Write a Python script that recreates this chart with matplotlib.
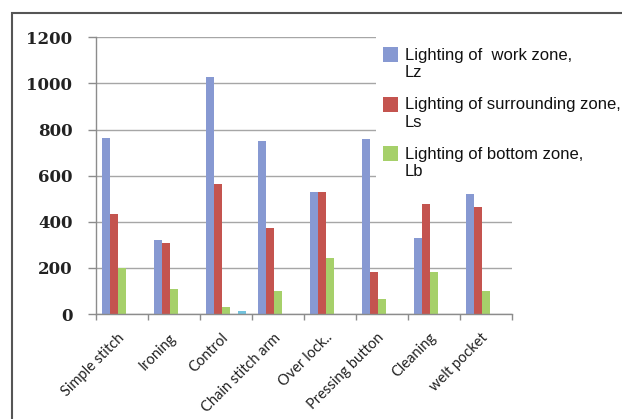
import numpy as np
import matplotlib
matplotlib.use("Agg")
import matplotlib.pyplot as plt
import matplotlib.transforms as mtransforms
from matplotlib.patches import Rectangle

# Operations and measured lighting levels
operations = ["Simple stitch", "Ironing", "Control", "Chain stitch arm",
              "Over lock..", "Pressing button", "Cleaning", "welt pocket"]
lz = [762, 319, 1026, 749, 531, 758, 329, 522]
ls = [434, 310, 564, 371, 531, 180, 478, 463]
lb = [200, 107, 29, 98, 241, 66, 180, 98]
extra4 = [0, 0, 0, 0, 0, 0, 0, 0]
extra5 = [0, 0, 14, 0, 0, 0, 0, 0]

legend_lines = [("Lighting of  work zone,", "Lz"),
                ("Lighting of surrounding zone,", "Ls"),
                ("Lighting of bottom zone,", "Lb")]

colors = ["#8799D2", "#C4544F", "#A6D06A", "#8064A2", "#72C3DE"]
series = [lz, ls, lb, extra4, extra5]

W, H = 622, 419
fig = plt.figure(figsize=(W / 100, H / 100), dpi=100)


def fx(px):
    return px / W


def fy(py):
    return 1 - py / H


ax = fig.add_axes([fx(96), fy(314), fx(512) - fx(96), fy(37.3) - fy(314)])

x = np.arange(len(operations))
bw = 8 / 52
for k, (vals, c) in enumerate(zip(series, colors)):
    off = (10 + 8 * k) / 52 - 0.5
    ax.bar(x + off, vals, width=bw, color=c, zorder=2)

ax.set_xlim(-0.5, len(operations) - 0.5)
ax.set_ylim(0, 1200)
ax.set_yticks(range(0, 1201, 200))
ax.grid(axis="y", color="#a6a6a6", linewidth=1, zorder=0)
ax.set_axisbelow(True)

for s in ["top", "right"]:
    ax.spines[s].set_visible(False)
for s in ["left", "bottom"]:
    ax.spines[s].set_color("#8c8c8c")
    ax.spines[s].set_linewidth(1)

ax.tick_params(axis="y", length=6, width=1, color="#8c8c8c", pad=11)
for lab in ax.get_yticklabels():
    lab.set_fontfamily("DejaVu Serif")
    lab.set_fontweight("bold")
    lab.set_fontsize(12)
    lab.set_color("#222222")

# category boundaries as ticks, names centred under each group
ax.set_xticks(np.arange(-0.5, len(operations), 1.0), minor=True)
ax.tick_params(axis="x", which="minor", length=4, width=1, color="#8c8c8c")
ax.set_xticks(x)
ax.set_xticklabels(operations, rotation=45, ha="right", rotation_mode="anchor",
                   fontfamily="Lato", fontsize=10.5, color="#222222")
ax.tick_params(axis="x", which="major", length=0, pad=9)
shift = mtransforms.ScaledTranslation(-0.05, -0.04, fig.dpi_scale_trans)
for lab in ax.get_xticklabels():
    lab.set_transform(lab.get_transform() + shift)

# legend box drawn over the upper right of the plot
fig.patches.append(Rectangle((fx(376), fy(185)), fx(W) - fx(376), fy(30) - fy(185),
                             transform=fig.transFigure, facecolor="white",
                             edgecolor="none", zorder=3))
sq_top = [47.3, 96.7, 146]
for (l1, l2), c, top in zip(legend_lines, colors, sq_top):
    fig.patches.append(Rectangle((fx(383), fy(top + 15)), fx(15), 15 / H,
                                 transform=fig.transFigure, facecolor=c,
                                 edgecolor="none", zorder=4))
    fig.text(fx(405), fy(top + 8), l1, fontfamily="Liberation Sans", fontsize=12,
             va="center", ha="left", color="#111111", zorder=5)
    fig.text(fx(405), fy(top + 25.5), l2, fontfamily="Liberation Sans", fontsize=12,
             va="center", ha="left", color="#111111", zorder=5)

# outer frame (left and top edges visible)
fig.patches.append(Rectangle((fx(12), fy(H + 5)), fx(W + 10) - fx(12), fy(13) - fy(H + 5),
                             transform=fig.transFigure, facecolor="none",
                             edgecolor="#555555", linewidth=1.5, zorder=6))

fig.savefig("out.png", dpi=100)
